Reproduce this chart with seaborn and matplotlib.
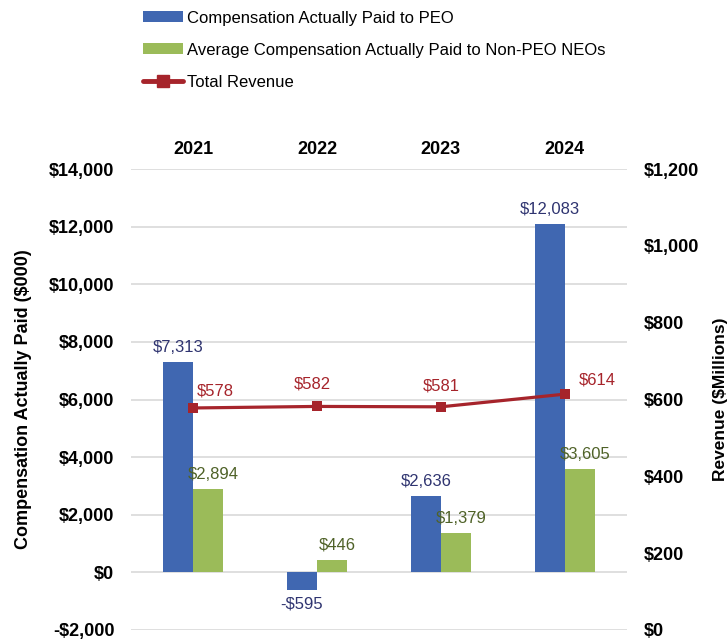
import numpy as np
import pandas as pd
import matplotlib
matplotlib.use("Agg")
import matplotlib.pyplot as plt
from matplotlib.patches import Patch
from matplotlib.lines import Line2D
import seaborn as sns


# =====================
# Data
# =====================

years = ["2021", "2022", "2023", "2024"]

peo_cap = [7313, -595, 2636, 12083]

neo_cap = [2894, 446, 1379, 3605]

revenue = [578, 582, 581, 614]

series_names = [
    "Compensation Actually Paid to PEO",
    "Average Compensation Actually Paid to Non-PEO NEOs",
]

revenue_name = "Total Revenue"


# label placement for revenue values (points)
rev_dx = [16, -3, 0, 23]
rev_dy = [12, 16, 15, 10]


# =====================
# Style
# =====================

sns.set_style("white")

plt.rcParams["font.family"] = ["Liberation Sans", "DejaVu Sans"]
plt.rcParams["text.color"] = "black"

blue = "#4067B1"
green = "#9BBB59"
red = "#A6242B"
navy = "#2F3470"
olive = "#4F6228"
grid_col = "#D9D9D9"


df = pd.DataFrame({
    "Year": years * 2,
    "Value": peo_cap + neo_cap,
    "Series": [series_names[0]] * 4 + [series_names[1]] * 4,
})


fig = plt.figure(figsize=(7.28, 6.42), dpi=100)

ax = fig.add_axes([0.18, 0.0187, 0.681, 0.718])


sns.barplot(
    data=df,
    x="Year",
    y="Value",
    hue="Series",
    palette=[blue, green],
    width=0.484,
    saturation=1,
    linewidth=0,
    legend=False,
    ax=ax,
    zorder=2,
)

ax.set_xlim(-0.5, 3.5)
ax.set_ylim(-2000, 14000)
ax.set_yticks(np.arange(-2000, 14001, 2000))
ax.set_yticklabels(
    [f"-${abs(v):,}" if v < 0 else f"${v:,}" for v in range(-2000, 14001, 2000)]
)

ax.grid(axis="y", color=grid_col, linewidth=1.2, zorder=0)
ax.set_axisbelow(True)

ax.xaxis.tick_top()
ax.tick_params(axis="x", length=0, pad=8, labelsize=13, labelcolor="black")
ax.tick_params(axis="y", length=0, pad=12, labelsize=13, labelcolor="black")

for lab in ax.get_xticklabels() + ax.get_yticklabels():
    lab.set_fontweight("bold")

ax.set_xlabel("")
ax.set_ylabel(
    "Compensation Actually Paid ($000)",
    fontsize=13,
    fontweight="bold",
    color="black",
    labelpad=12,
)

for s in ax.spines.values():
    s.set_visible(False)


# bar labels
for i, v in enumerate(peo_cap):
    x = i - 0.121
    txt = f"-${abs(v):,}" if v < 0 else f"${v:,}"
    ax.annotate(
        txt,
        (x, v),
        xytext=(0, 5 if v >= 0 else -5),
        textcoords="offset points",
        ha="center",
        va="bottom" if v >= 0 else "top",
        fontsize=12,
        color=navy,
    )

for i, v in enumerate(neo_cap):
    x = i + 0.121
    ax.annotate(
        f"${v:,}",
        (x, v),
        xytext=(4, 5),
        textcoords="offset points",
        ha="center",
        va="bottom",
        fontsize=12,
        color=olive,
    )


# =====================
# Revenue line
# =====================

ax2 = ax.twinx()

sns.lineplot(
    x=np.arange(len(years)),
    y=revenue,
    color=red,
    linewidth=2.3,
    marker="s",
    markersize=7,
    markeredgewidth=0,
    ax=ax2,
)

ax2.set_ylim(0, 1200)
ax2.set_yticks(np.arange(0, 1201, 200))
ax2.set_yticklabels([f"${v:,}" for v in range(0, 1201, 200)])
ax2.tick_params(axis="y", length=0, pad=12, labelsize=13, labelcolor="black")

for lab in ax2.get_yticklabels():
    lab.set_fontweight("bold")

ax2.set_ylabel(
    "Revenue ($Millions)",
    fontsize=12.5,
    fontweight="bold",
    color="black",
    labelpad=10,
)

for s in ax2.spines.values():
    s.set_visible(False)

for i, v in enumerate(revenue):
    ax2.annotate(
        f"${v}",
        (i, v),
        xytext=(rev_dx[i], rev_dy[i]),
        textcoords="offset points",
        ha="center",
        va="center",
        fontsize=12,
        color=red,
    )


# =====================
# Legend
# =====================

handles = [
    Patch(facecolor=blue, edgecolor="none"),
    Patch(facecolor=green, edgecolor="none"),
    Line2D([0], [0], color=red, linewidth=3.5, marker="s", markersize=8),
]

fig.legend(
    handles,
    series_names + [revenue_name],
    loc="upper left",
    bbox_to_anchor=(0.176, 1.007),
    frameon=False,
    handlelength=2.4,
    handleheight=0.6,
    handletextpad=0.25,
    labelspacing=1.02,
    prop={"family": ["Liberation Sans", "DejaVu Sans"], "size": 12},
)


plt.savefig("out.png", dpi=100)

plt.close()
